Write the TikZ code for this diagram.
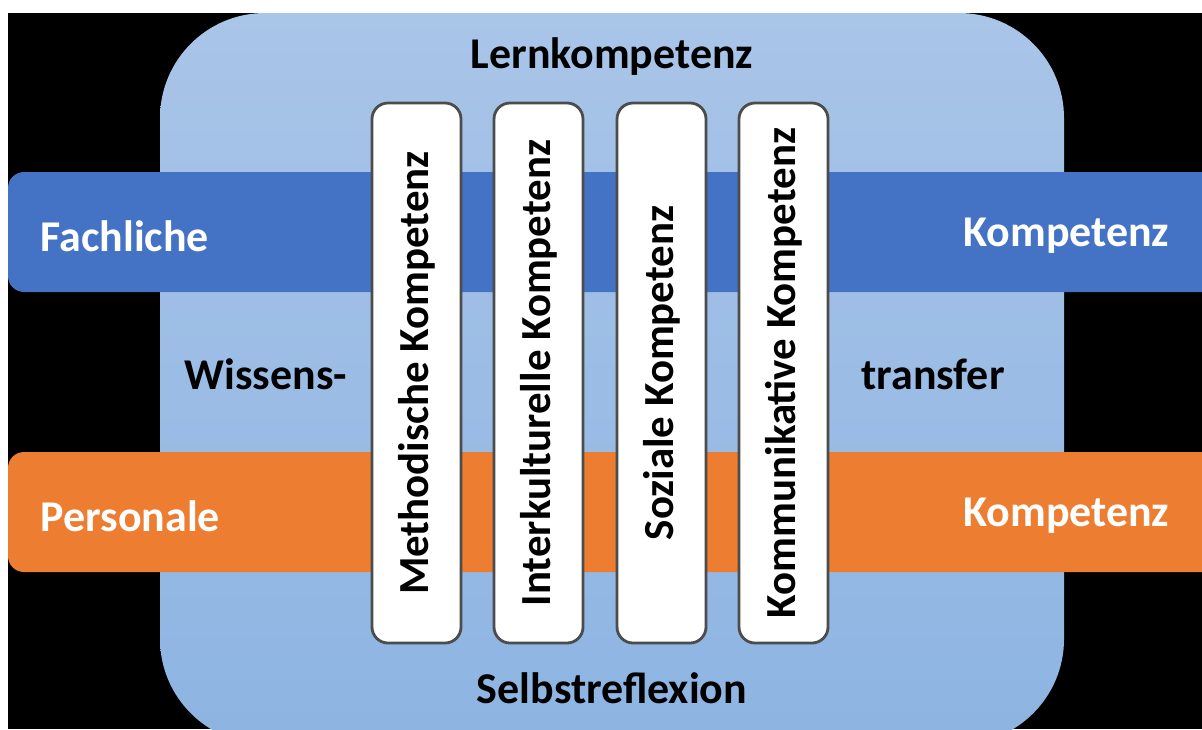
\documentclass[tikz,border=0pt]{standalone}
\usepackage{fontspec}
\setmainfont{Carlito}
\usetikzlibrary{positioning}
\definecolor{lernblau}{HTML}{A9C5E8}
\definecolor{lernblaudunkel}{HTML}{8DB4E2}
\definecolor{fachblau}{HTML}{4472C4}
\definecolor{persorange}{HTML}{ED7D31}

\begin{document}
\begin{tikzpicture}[
    kbox/.style={draw=black!70, line width=0.8pt, fill=white, rounded corners=0.16cm, minimum width=5.4cm, minimum height=0.89cm, inner sep=0pt, rotate=90, font=\fontsize{12.2}{14}\selectfont\bfseries},
    band/.style={rounded corners=0.16cm},
    label/.style={font=\fontsize{12.5}{14}\selectfont\bfseries, inner sep=0pt},
    wlabel/.style={label, text=white}
]

% background
\useasboundingbox (0,0) rectangle (12.02,7.29);
\fill[white] (0,0) rectangle (12.02,7.29);
\begin{scope}
\clip (0,0) rectangle (12.02,7.29);
\fill[black] (0.08,0) rectangle (12.02,7.16);

% Lernkompetenz area
\shade[top color=lernblau, bottom color=lernblaudunkel, rounded corners=1.05cm] (1.60,-0.15) rectangle (10.64,7.16);

% bands
\fill[band, fachblau] (0.08,4.37) rectangle (12.4,5.57);
\fill[band, persorange] (0.08,1.57) rectangle (12.4,2.77);
\end{scope}

% competence boxes
\node[kbox] (methodisch) at (4.165,3.56) {Methodische Kompetenz};
\node[kbox] (interkulturell) at (5.385,3.56) {Interkulturelle Kompetenz};
\node[kbox] (sozial) at (6.615,3.56) {Soziale Kompetenz};
\node[kbox] (kommunikativ) at (7.835,3.56) {Kommunikative Kompetenz};

% labels
\node[label] (lern) at (6.12,6.72) {Lernkompetenz};
\node[label] (selbst) at (6.12,0.41) {Selbstreflexion};
\node[wlabel, anchor=west] (fach) at (0.40,4.93) {Fachliche};
\node[wlabel, anchor=east] (fachk) at (11.70,4.93) {Kompetenz};
\node[label] (wissen) at (2.66,3.55) {Wissens-};
\node[label] (transfer) at (9.33,3.55) {transfer};
\node[wlabel, anchor=west] (pers) at (0.40,2.13) {Personale};
\node[wlabel, anchor=east] (persk) at (11.70,2.13) {Kompetenz};

\end{tikzpicture}
\end{document}
